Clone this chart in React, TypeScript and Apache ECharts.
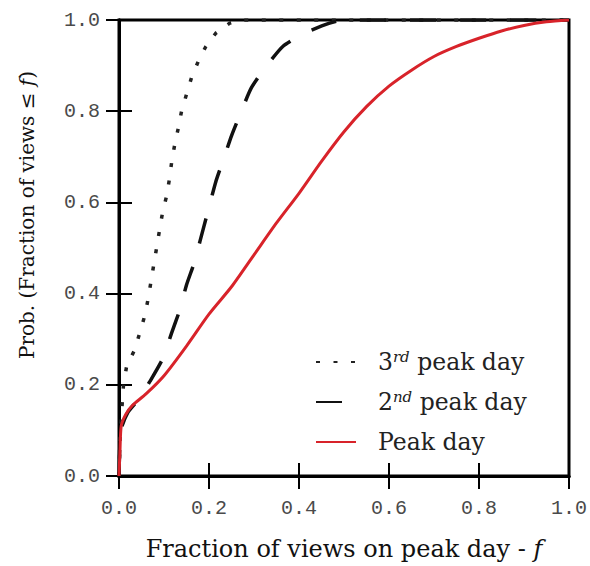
import React, { useEffect, useRef } from "react";
import * as echarts from "echarts";

const xTicks = [0, 0.2, 0.4, 0.6, 0.8, 1.0];
const yTicks = [0, 0.2, 0.4, 0.6, 0.8, 1.0];

const seriesNames = ["3rd peak day", "2nd peak day", "Peak day"];

const thirdF = [0, 0.003, 0.01, 0.017, 0.035, 0.047, 0.058, 0.065, 0.071, 0.077, 0.084, 0.09, 0.097, 0.106, 0.112, 0.117, 0.124, 0.132, 0.139, 0.15, 0.161, 0.176, 0.193, 0.215, 0.246, 0.27, 1.0];
const thirdP = [0, 0.1, 0.2, 0.241, 0.277, 0.317, 0.354, 0.39, 0.426, 0.462, 0.503, 0.539, 0.579, 0.615, 0.651, 0.688, 0.728, 0.764, 0.8, 0.837, 0.873, 0.909, 0.942, 0.971, 0.993, 1.0, 1.0];

const secondF = [0, 0.004, 0.02, 0.045, 0.069, 0.098, 0.117, 0.135, 0.15, 0.168, 0.18, 0.198, 0.215, 0.231, 0.25, 0.272, 0.294, 0.327, 0.364, 0.412, 0.468, 0.5, 1.0];
const secondP = [0, 0.1, 0.14, 0.17, 0.208, 0.259, 0.314, 0.364, 0.419, 0.47, 0.515, 0.582, 0.645, 0.691, 0.746, 0.8, 0.851, 0.898, 0.942, 0.971, 0.993, 1.0, 1.0];

const peakF = [0, 0.002, 0.005, 0.015, 0.03, 0.06, 0.1, 0.15, 0.2, 0.25, 0.3, 0.35, 0.4, 0.45, 0.5, 0.55, 0.6, 0.65, 0.7, 0.75, 0.8, 0.85, 0.9, 0.95, 1.0];
const peakP = [0, 0.05, 0.11, 0.135, 0.155, 0.18, 0.22, 0.285, 0.355, 0.415, 0.485, 0.555, 0.62, 0.69, 0.755, 0.81, 0.855, 0.89, 0.92, 0.942, 0.96, 0.976, 0.988, 0.996, 1.0];

const zip = (a: number[], b: number[]) => a.map((v, i) => [v, b[i]]);

const SERIF = "'DejaVu Serif', serif";
const MONO = "'Liberation Mono', monospace";

export default function App() {
  const ref = useRef<HTMLDivElement>(null);
  useEffect(() => {
    if (!ref.current) return;
    const chart = echarts.init(ref.current, undefined, { renderer: "svg" });
    const tickLabel = (v: number) => v.toFixed(1);
    const axisCommon = {
      type: "value" as const,
      min: 0,
      max: 1,
      interval: 0.2,
      splitLine: { show: false },
      axisLine: { show: true, lineStyle: { color: "#000", width: 3 } },
      axisTick: { show: true, inside: true, length: 13, lineStyle: { color: "#000", width: 2 } },
    };
    const legendText: Record<string, string> = {
      "3rd peak day": "{b|3}{sup|rd}{b| peak day}",
      "2nd peak day": "{b|2}{sup|nd}{b| peak day}",
      "Peak day": "{b|Peak day}",
    };
    chart.setOption({
      animation: false,
      backgroundColor: "#fff",
      grid: {
        left: 119,
        right: 20,
        top: 20,
        bottom: 87,
        show: true,
        borderColor: "#000",
        borderWidth: 3,
        containLabel: false,
      },
      xAxis: [
        {
          ...axisCommon,
          position: "bottom",
          axisLabel: {
            formatter: tickLabel,
            fontFamily: MONO,
            fontSize: 20,
            color: "#4a4a4a",
            margin: 22,
            customValues: xTicks,
          },
          name: "{n|Fraction of views on peak day - }{it|f}",
          nameLocation: "middle",
          nameGap: 61,
          nameTextStyle: {
            rich: {
              n: { fontFamily: SERIF, fontSize: 24, color: "#111" },
              it: { fontFamily: SERIF, fontSize: 24, color: "#111", fontStyle: "italic" },
            },
          },
        },
        {
          ...axisCommon,
          position: "top",
          axisLabel: { show: false },
        },
      ],
      yAxis: [
        {
          ...axisCommon,
          position: "left",
          axisLabel: {
            formatter: tickLabel,
            fontFamily: MONO,
            fontSize: 20,
            color: "#4a4a4a",
            margin: 19,
            customValues: yTicks,
          },
        },
        {
          ...axisCommon,
          position: "right",
          axisLabel: { show: false },
        },
      ],
      legend: {
        orient: "vertical",
        left: 310,
        top: 344,
        itemWidth: 40,
        itemHeight: 14,
        itemGap: 14,
        itemStyle: { opacity: 0 },
        data: [
          { name: seriesNames[0] },
          { name: seriesNames[1] },
          { name: seriesNames[2] },
        ],
        formatter: (name: string) => legendText[name] || name,
        textStyle: {
          padding: [0, 0, 0, 17],
          lineHeight: 26,
          rich: {
            b: { fontFamily: SERIF, fontSize: 23.5, color: "#222", lineHeight: 26 },
            sup: { fontFamily: SERIF, fontSize: 15, color: "#222", fontStyle: "italic", verticalAlign: "top", lineHeight: 16 },
          },
        },
      },
      graphic: [
        {
          type: "text",
          x: 27,
          y: 215,
          rotation: Math.PI / 2,
          style: {
            text: "{n|Prob. (Fraction of views ≤ }{it|f}{n|)}",
            align: "center",
            verticalAlign: "middle",
            rich: {
              n: { fontFamily: SERIF, fontSize: 20, fill: "#111" },
              it: { fontFamily: SERIF, fontSize: 20, fill: "#111", fontStyle: "italic" },
            },
          },
        },
      ],
      series: [
        {
          name: seriesNames[0],
          type: "line",
          data: zip(thirdF, thirdP),
          symbol: "none",
          z: 2,
          itemStyle: { color: "#222" },
          lineStyle: { color: "#222", width: 3.5, type: [4, 13.5] },
        },
        {
          name: seriesNames[1],
          type: "line",
          data: zip(secondF, secondP),
          symbol: "none",
          smooth: 0.2,
          z: 3,
          itemStyle: { color: "#111" },
          lineStyle: { color: "#111", width: 3.5, type: [26, 24] },
        },
        {
          name: seriesNames[2],
          type: "line",
          data: zip(peakF, peakP),
          symbol: "none",
          smooth: 0.25,
          z: 4,
          itemStyle: { color: "#d8232a" },
          lineStyle: { color: "#d8232a", width: 3 },
        },
      ],
    });
    return () => chart.dispose();
  }, []);
  return <div ref={ref} style={{ width: 590, height: 566, position: "absolute", left: 0, top: 0 }} />;
}
